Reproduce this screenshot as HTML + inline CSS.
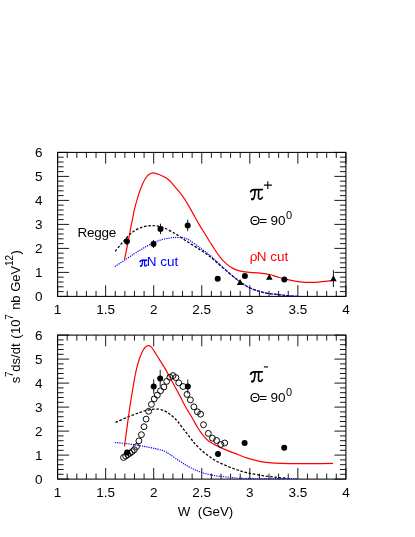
<!DOCTYPE html>
<html><head><meta charset="utf-8"><title>s7 dsigma/dt</title>
<style>
html,body{margin:0;padding:0;background:#fff;}
body{width:415px;height:537px;overflow:hidden;}
svg{display:block;will-change:transform;}
text{font-family:"Liberation Sans",sans-serif;font-size:13.5px;fill:#000;}
</style></head><body>
<svg width="415" height="537" viewBox="0 0 415 537">
<rect x="0" y="0" width="415" height="537" fill="#fff"/>
<!-- top panel -->
<rect x="57.60" y="152.40" width="288.30" height="144.00" fill="none" stroke="#000" stroke-width="1.05"/>
<path d="M57.60,296.40v-11.20M57.60,152.40v11.20M67.21,296.40v-5.50M67.21,152.40v5.50M76.82,296.40v-5.50M76.82,152.40v5.50M86.43,296.40v-5.50M86.43,152.40v5.50M96.04,296.40v-5.50M96.04,152.40v5.50M105.65,296.40v-11.20M105.65,152.40v11.20M115.26,296.40v-5.50M115.26,152.40v5.50M124.87,296.40v-5.50M124.87,152.40v5.50M134.48,296.40v-5.50M134.48,152.40v5.50M144.09,296.40v-5.50M144.09,152.40v5.50M153.70,296.40v-11.20M153.70,152.40v11.20M163.31,296.40v-5.50M163.31,152.40v5.50M172.92,296.40v-5.50M172.92,152.40v5.50M182.53,296.40v-5.50M182.53,152.40v5.50M192.14,296.40v-5.50M192.14,152.40v5.50M201.75,296.40v-11.20M201.75,152.40v11.20M211.36,296.40v-5.50M211.36,152.40v5.50M220.97,296.40v-5.50M220.97,152.40v5.50M230.58,296.40v-5.50M230.58,152.40v5.50M240.19,296.40v-5.50M240.19,152.40v5.50M249.80,296.40v-11.20M249.80,152.40v11.20M259.41,296.40v-5.50M259.41,152.40v5.50M269.02,296.40v-5.50M269.02,152.40v5.50M278.63,296.40v-5.50M278.63,152.40v5.50M288.24,296.40v-5.50M288.24,152.40v5.50M297.85,296.40v-11.20M297.85,152.40v11.20M307.46,296.40v-5.50M307.46,152.40v5.50M317.07,296.40v-5.50M317.07,152.40v5.50M326.68,296.40v-5.50M326.68,152.40v5.50M336.29,296.40v-5.50M336.29,152.40v5.50M345.90,296.40v-11.20M345.90,152.40v11.20M57.60,296.40h11.50M345.90,296.40h-11.50M57.60,291.60h6.00M345.90,291.60h-6.00M57.60,286.80h6.00M345.90,286.80h-6.00M57.60,282.00h6.00M345.90,282.00h-6.00M57.60,277.20h6.00M345.90,277.20h-6.00M57.60,272.40h11.50M345.90,272.40h-11.50M57.60,267.60h6.00M345.90,267.60h-6.00M57.60,262.80h6.00M345.90,262.80h-6.00M57.60,258.00h6.00M345.90,258.00h-6.00M57.60,253.20h6.00M345.90,253.20h-6.00M57.60,248.40h11.50M345.90,248.40h-11.50M57.60,243.60h6.00M345.90,243.60h-6.00M57.60,238.80h6.00M345.90,238.80h-6.00M57.60,234.00h6.00M345.90,234.00h-6.00M57.60,229.20h6.00M345.90,229.20h-6.00M57.60,224.40h11.50M345.90,224.40h-11.50M57.60,219.60h6.00M345.90,219.60h-6.00M57.60,214.80h6.00M345.90,214.80h-6.00M57.60,210.00h6.00M345.90,210.00h-6.00M57.60,205.20h6.00M345.90,205.20h-6.00M57.60,200.40h11.50M345.90,200.40h-11.50M57.60,195.60h6.00M345.90,195.60h-6.00M57.60,190.80h6.00M345.90,190.80h-6.00M57.60,186.00h6.00M345.90,186.00h-6.00M57.60,181.20h6.00M345.90,181.20h-6.00M57.60,176.40h11.50M345.90,176.40h-11.50M57.60,171.60h6.00M345.90,171.60h-6.00M57.60,166.80h6.00M345.90,166.80h-6.00M57.60,162.00h6.00M345.90,162.00h-6.00M57.60,157.20h6.00M345.90,157.20h-6.00M57.60,152.40h11.50M345.90,152.40h-11.50" stroke="#000" stroke-width="0.9" fill="none"/>
<text x="57.60" y="313.90" text-anchor="middle">1</text>
<text x="105.65" y="313.90" text-anchor="middle">1.5</text>
<text x="153.70" y="313.90" text-anchor="middle">2</text>
<text x="201.75" y="313.90" text-anchor="middle">2.5</text>
<text x="249.80" y="313.90" text-anchor="middle">3</text>
<text x="297.85" y="313.90" text-anchor="middle">3.5</text>
<text x="345.90" y="313.90" text-anchor="middle">4</text>
<text x="42.4" y="300.95" text-anchor="end">0</text>
<text x="42.4" y="276.95" text-anchor="end">1</text>
<text x="42.4" y="252.95" text-anchor="end">2</text>
<text x="42.4" y="228.95" text-anchor="end">3</text>
<text x="42.4" y="204.95" text-anchor="end">4</text>
<text x="42.4" y="180.95" text-anchor="end">5</text>
<text x="42.4" y="156.95" text-anchor="end">6</text>
<path d="M115.20,251.30 C116.00,250.30 118.37,247.25 120.00,245.30 C121.63,243.35 123.33,241.43 125.00,239.60 C126.67,237.77 128.42,235.77 130.00,234.30 C131.58,232.83 132.90,231.83 134.50,230.80 C136.10,229.77 137.68,228.87 139.60,228.10 C141.52,227.33 143.90,226.62 146.00,226.20 C148.10,225.78 150.20,225.60 152.20,225.60 C154.20,225.60 155.92,225.78 158.00,226.20 C160.08,226.62 161.65,226.75 164.70,228.10 C167.75,229.45 172.45,231.98 176.30,234.30 C180.15,236.62 183.92,239.48 187.80,242.00 C191.68,244.52 195.97,247.02 199.60,249.40 C203.23,251.78 206.32,253.75 209.60,256.30 C212.88,258.85 216.08,261.93 219.30,264.70 C222.52,267.47 225.70,270.25 228.90,272.90 C232.10,275.55 235.28,278.23 238.50,280.60 C241.72,282.97 244.98,285.38 248.20,287.10 C251.42,288.82 254.58,289.87 257.80,290.90 C261.02,291.93 263.80,292.65 267.50,293.30 C271.20,293.95 276.25,294.37 280.00,294.80 C283.75,295.23 287.17,295.65 290.00,295.90 C292.83,296.15 295.83,296.23 297.00,296.30" fill="none" stroke="#000" stroke-width="1.25" stroke-dasharray="2.6 1.7"/>
<path d="M115.30,266.30 C116.87,265.27 121.57,262.18 124.70,260.10 C127.83,258.02 131.22,255.65 134.10,253.80 C136.98,251.95 139.35,250.57 142.00,249.00 C144.65,247.43 146.97,245.87 150.00,244.40 C153.03,242.93 156.87,241.28 160.20,240.20 C163.53,239.12 167.20,238.35 170.00,237.90 C172.80,237.45 174.58,237.48 177.00,237.50 C179.42,237.52 182.33,237.48 184.50,238.00 C186.67,238.52 187.48,239.02 190.00,240.60 C192.52,242.18 196.33,245.10 199.60,247.50 C202.87,249.90 206.32,252.27 209.60,255.00 C212.88,257.73 216.08,260.92 219.30,263.90 C222.52,266.88 225.70,270.12 228.90,272.90 C232.10,275.68 235.28,278.23 238.50,280.60 C241.72,282.97 244.98,285.38 248.20,287.10 C251.42,288.82 254.58,289.87 257.80,290.90 C261.02,291.93 263.80,292.65 267.50,293.30 C271.20,293.95 276.25,294.37 280.00,294.80 C283.75,295.23 287.05,295.65 290.00,295.90 C292.95,296.15 296.42,296.23 297.70,296.30" fill="none" stroke="#0000ff" stroke-width="1.35" stroke-linecap="round" stroke-dasharray="0.01 2.25"/>
<path d="M124.50,259.60 C124.90,257.63 126.10,251.73 126.90,247.80 C127.70,243.87 128.67,239.30 129.30,236.00 C129.93,232.70 130.20,230.67 130.70,228.00 C131.20,225.33 131.67,223.13 132.30,220.00 C132.93,216.87 133.53,213.18 134.50,209.20 C135.47,205.22 136.90,199.97 138.10,196.10 C139.30,192.23 140.50,188.88 141.70,186.00 C142.90,183.12 144.10,180.72 145.30,178.80 C146.50,176.88 147.57,175.48 148.90,174.50 C150.23,173.52 151.62,172.90 153.30,172.90 C154.98,172.90 156.83,173.63 159.00,174.50 C161.17,175.37 164.37,176.90 166.30,178.10 C168.23,179.30 169.17,180.27 170.60,181.70 C172.03,183.13 173.80,185.42 174.90,186.70 C176.00,187.98 175.60,187.38 177.20,189.40 C178.80,191.42 182.08,195.18 184.50,198.80 C186.92,202.42 189.30,206.88 191.70,211.10 C194.10,215.32 196.73,220.37 198.90,224.10 C201.07,227.83 203.07,230.85 204.70,233.50 C206.33,236.15 207.53,238.15 208.70,240.00 C209.87,241.85 210.00,242.00 211.70,244.60 C213.40,247.20 216.50,252.43 218.90,255.60 C221.30,258.77 223.68,261.43 226.10,263.60 C228.52,265.77 230.98,267.33 233.40,268.60 C235.82,269.87 237.80,270.58 240.60,271.20 C243.40,271.82 246.98,271.97 250.20,272.30 C253.42,272.63 256.68,272.83 259.90,273.20 C263.12,273.57 266.28,273.78 269.50,274.50 C272.72,275.22 275.78,276.55 279.20,277.50 C282.62,278.45 286.53,279.48 290.00,280.20 C293.47,280.92 296.67,281.43 300.00,281.80 C303.33,282.17 306.57,282.38 310.00,282.40 C313.43,282.42 316.65,282.23 320.60,281.90 C324.55,281.57 331.52,280.65 333.70,280.40" fill="none" stroke="#ff0000" stroke-width="1.2"/>
<line x1="126.90" y1="237.30" x2="126.90" y2="245.30" stroke="#000" stroke-width="0.9"/>
<circle cx="126.90" cy="241.30" r="3.00" fill="#000"/>
<line x1="153.50" y1="240.00" x2="153.50" y2="248.00" stroke="#000" stroke-width="0.9"/>
<circle cx="153.50" cy="244.00" r="3.00" fill="#000"/>
<line x1="160.50" y1="223.70" x2="160.50" y2="234.10" stroke="#000" stroke-width="0.9"/>
<circle cx="160.50" cy="228.90" r="3.00" fill="#000"/>
<line x1="187.70" y1="219.60" x2="187.70" y2="231.20" stroke="#000" stroke-width="0.9"/>
<circle cx="187.70" cy="225.40" r="3.00" fill="#000"/>
<circle cx="217.70" cy="278.80" r="3.00" fill="#000"/>
<circle cx="244.90" cy="275.90" r="3.00" fill="#000"/>
<circle cx="284.30" cy="279.50" r="3.00" fill="#000"/>
<path d="M240.10,278.95 L243.35,284.96 L236.85,284.96 Z" fill="#000"/>
<path d="M269.30,273.75 L272.55,279.76 L266.05,279.76 Z" fill="#000"/>
<line x1="333.40" y1="270.10" x2="333.40" y2="287.10" stroke="#000" stroke-width="0.9"/>
<path d="M333.40,275.35 L336.65,281.36 L330.15,281.36 Z" fill="#000"/>
<text x="77.5" y="236.8" style="letter-spacing:-0.28px">Regge</text>
<g transform="translate(-7.94,148.5) scale(0.59) translate(245,178) scale(0.07231)" fill="none" stroke="#0000ff" stroke-linecap="round" stroke-linejoin="round">
<path d="M78,190 C88,166 104,160 126,160 L238,160" stroke-width="34"/>
<path d="M140,162 C139,205 136,248 122,282 C114,300 98,304 94,292" stroke-width="30"/>
<circle cx="100" cy="288" r="11" fill="#0000ff" stroke-width="12"/>
<path d="M190,162 C188,205 184,250 188,276 C193,300 224,298 240,268" stroke-width="30"/>
</g><text x="146.7" y="266.3" style="fill:#0000ff">N cut</text>
<text x="249.8" y="261" style="fill:#ff0000">&#961;</text><text x="256.8" y="261" style="fill:#ff0000">N cut</text>
<g transform="translate(245,178) scale(0.07231)" fill="none" stroke="#000" stroke-linecap="round" stroke-linejoin="round">
<path d="M78,190 C88,166 104,160 126,160 L238,160" stroke-width="25"/>
<path d="M140,162 C139,205 136,248 122,282 C114,300 98,304 94,292" stroke-width="22"/>
<circle cx="100" cy="290" r="10" fill="#000" stroke-width="8"/>
<path d="M190,162 C188,205 184,250 188,276 C193,300 224,298 240,268" stroke-width="22"/>
</g>
<path d="M263.9,185.1H271.9M267.8,181.2V188.9" stroke="#000" stroke-width="1.1" fill="none"/>
<text x="249.8" y="224.9">&#920;</text><text x="259.2" y="224.9">=</text><text x="270.4" y="224.9">90</text>
<text x="286.1" y="219.2" style="font-size:11px">0</text>
<!-- bottom panel -->
<rect x="57.60" y="335.10" width="288.30" height="144.00" fill="none" stroke="#000" stroke-width="1.05"/>
<path d="M57.60,479.10v-11.20M57.60,335.10v11.20M67.21,479.10v-5.50M67.21,335.10v5.50M76.82,479.10v-5.50M76.82,335.10v5.50M86.43,479.10v-5.50M86.43,335.10v5.50M96.04,479.10v-5.50M96.04,335.10v5.50M105.65,479.10v-11.20M105.65,335.10v11.20M115.26,479.10v-5.50M115.26,335.10v5.50M124.87,479.10v-5.50M124.87,335.10v5.50M134.48,479.10v-5.50M134.48,335.10v5.50M144.09,479.10v-5.50M144.09,335.10v5.50M153.70,479.10v-11.20M153.70,335.10v11.20M163.31,479.10v-5.50M163.31,335.10v5.50M172.92,479.10v-5.50M172.92,335.10v5.50M182.53,479.10v-5.50M182.53,335.10v5.50M192.14,479.10v-5.50M192.14,335.10v5.50M201.75,479.10v-11.20M201.75,335.10v11.20M211.36,479.10v-5.50M211.36,335.10v5.50M220.97,479.10v-5.50M220.97,335.10v5.50M230.58,479.10v-5.50M230.58,335.10v5.50M240.19,479.10v-5.50M240.19,335.10v5.50M249.80,479.10v-11.20M249.80,335.10v11.20M259.41,479.10v-5.50M259.41,335.10v5.50M269.02,479.10v-5.50M269.02,335.10v5.50M278.63,479.10v-5.50M278.63,335.10v5.50M288.24,479.10v-5.50M288.24,335.10v5.50M297.85,479.10v-11.20M297.85,335.10v11.20M307.46,479.10v-5.50M307.46,335.10v5.50M317.07,479.10v-5.50M317.07,335.10v5.50M326.68,479.10v-5.50M326.68,335.10v5.50M336.29,479.10v-5.50M336.29,335.10v5.50M345.90,479.10v-11.20M345.90,335.10v11.20M57.60,479.10h11.50M345.90,479.10h-11.50M57.60,474.30h6.00M345.90,474.30h-6.00M57.60,469.50h6.00M345.90,469.50h-6.00M57.60,464.70h6.00M345.90,464.70h-6.00M57.60,459.90h6.00M345.90,459.90h-6.00M57.60,455.10h11.50M345.90,455.10h-11.50M57.60,450.30h6.00M345.90,450.30h-6.00M57.60,445.50h6.00M345.90,445.50h-6.00M57.60,440.70h6.00M345.90,440.70h-6.00M57.60,435.90h6.00M345.90,435.90h-6.00M57.60,431.10h11.50M345.90,431.10h-11.50M57.60,426.30h6.00M345.90,426.30h-6.00M57.60,421.50h6.00M345.90,421.50h-6.00M57.60,416.70h6.00M345.90,416.70h-6.00M57.60,411.90h6.00M345.90,411.90h-6.00M57.60,407.10h11.50M345.90,407.10h-11.50M57.60,402.30h6.00M345.90,402.30h-6.00M57.60,397.50h6.00M345.90,397.50h-6.00M57.60,392.70h6.00M345.90,392.70h-6.00M57.60,387.90h6.00M345.90,387.90h-6.00M57.60,383.10h11.50M345.90,383.10h-11.50M57.60,378.30h6.00M345.90,378.30h-6.00M57.60,373.50h6.00M345.90,373.50h-6.00M57.60,368.70h6.00M345.90,368.70h-6.00M57.60,363.90h6.00M345.90,363.90h-6.00M57.60,359.10h11.50M345.90,359.10h-11.50M57.60,354.30h6.00M345.90,354.30h-6.00M57.60,349.50h6.00M345.90,349.50h-6.00M57.60,344.70h6.00M345.90,344.70h-6.00M57.60,339.90h6.00M345.90,339.90h-6.00M57.60,335.10h11.50M345.90,335.10h-11.50" stroke="#000" stroke-width="0.9" fill="none"/>
<text x="57.60" y="496.60" text-anchor="middle">1</text>
<text x="105.65" y="496.60" text-anchor="middle">1.5</text>
<text x="153.70" y="496.60" text-anchor="middle">2</text>
<text x="201.75" y="496.60" text-anchor="middle">2.5</text>
<text x="249.80" y="496.60" text-anchor="middle">3</text>
<text x="297.85" y="496.60" text-anchor="middle">3.5</text>
<text x="345.90" y="496.60" text-anchor="middle">4</text>
<text x="42.4" y="483.65" text-anchor="end">0</text>
<text x="42.4" y="459.65" text-anchor="end">1</text>
<text x="42.4" y="435.65" text-anchor="end">2</text>
<text x="42.4" y="411.65" text-anchor="end">3</text>
<text x="42.4" y="387.65" text-anchor="end">4</text>
<text x="42.4" y="363.65" text-anchor="end">5</text>
<text x="42.4" y="339.65" text-anchor="end">6</text>
<path d="M115.50,422.40 C117.72,421.43 124.65,418.28 128.80,416.60 C132.95,414.92 137.03,413.43 140.40,412.30 C143.77,411.17 146.12,410.33 149.00,409.80 C151.88,409.27 155.17,408.93 157.70,409.10 C160.23,409.27 162.33,410.07 164.20,410.80 C166.07,411.53 167.43,412.50 168.90,413.50 C170.37,414.50 171.55,415.48 173.00,416.80 C174.45,418.12 175.63,419.07 177.60,421.40 C179.57,423.73 182.47,427.78 184.80,430.80 C187.13,433.82 189.83,437.27 191.60,439.50 C193.37,441.73 193.48,442.17 195.40,444.20 C197.32,446.23 200.53,449.48 203.10,451.70 C205.67,453.92 208.22,455.73 210.80,457.50 C213.38,459.27 215.70,460.80 218.60,462.30 C221.50,463.80 225.00,465.22 228.20,466.50 C231.40,467.78 234.58,468.93 237.80,470.00 C241.02,471.07 243.80,472.03 247.50,472.90 C251.20,473.77 255.42,474.48 260.00,475.20 C264.58,475.92 270.45,476.68 275.00,477.20 C279.55,477.72 285.25,478.12 287.30,478.30" fill="none" stroke="#000" stroke-width="1.25" stroke-dasharray="2.6 1.7"/>
<path d="M115.50,442.60 C117.47,442.78 123.40,443.22 127.30,443.70 C131.20,444.18 135.28,444.90 138.90,445.50 C142.52,446.10 145.87,446.68 149.00,447.30 C152.13,447.92 155.05,448.53 157.70,449.20 C160.35,449.87 162.85,450.40 164.90,451.30 C166.95,452.20 167.48,452.93 170.00,454.60 C172.52,456.27 177.05,459.38 180.00,461.30 C182.95,463.22 185.13,464.65 187.70,466.10 C190.27,467.55 192.83,468.87 195.40,470.00 C197.97,471.13 200.53,472.10 203.10,472.90 C205.67,473.70 208.22,474.25 210.80,474.80 C213.38,475.35 215.70,475.82 218.60,476.20 C221.50,476.58 225.00,476.78 228.20,477.10 C231.40,477.42 232.50,477.85 237.80,478.10 C243.10,478.35 249.97,478.52 260.00,478.60 C270.03,478.68 291.67,478.60 298.00,478.60" fill="none" stroke="#0000ff" stroke-width="1.35" stroke-linecap="round" stroke-dasharray="0.01 2.25"/>
<path d="M124.50,446.30 C125.32,440.25 128.18,418.55 129.40,410.00 C130.62,401.45 131.00,399.90 131.80,395.00 C132.60,390.10 133.40,385.00 134.20,380.60 C135.00,376.20 135.67,372.42 136.60,368.60 C137.53,364.78 138.67,360.83 139.80,357.70 C140.93,354.57 142.40,351.60 143.40,349.80 C144.40,348.00 145.00,347.58 145.80,346.90 C146.60,346.22 147.32,345.70 148.20,345.70 C149.08,345.70 150.10,345.98 151.10,346.90 C152.10,347.82 152.88,349.20 154.20,351.20 C155.52,353.20 157.18,356.00 159.00,358.90 C160.82,361.80 162.88,364.78 165.10,368.60 C167.32,372.42 169.90,377.38 172.30,381.80 C174.70,386.22 177.25,390.87 179.50,395.10 C181.75,399.33 184.12,404.13 185.80,407.20 C187.48,410.27 188.32,411.33 189.60,413.50 C190.88,415.67 192.22,417.95 193.50,420.20 C194.78,422.45 196.02,424.90 197.30,427.00 C198.58,429.10 200.00,431.15 201.20,432.80 C202.40,434.45 203.22,435.48 204.50,436.90 C205.78,438.32 207.20,440.02 208.90,441.30 C210.60,442.58 212.77,443.55 214.70,444.60 C216.63,445.65 218.25,446.55 220.50,447.60 C222.75,448.65 225.32,449.75 228.20,450.90 C231.08,452.05 234.58,453.30 237.80,454.50 C241.02,455.70 243.87,456.97 247.50,458.10 C251.13,459.23 255.97,460.53 259.60,461.30 C263.23,462.07 265.68,462.35 269.30,462.70 C272.92,463.05 276.48,463.25 281.30,463.40 C286.12,463.55 292.97,463.55 298.20,463.60 C303.43,463.65 306.90,463.73 312.70,463.70 C318.50,463.67 329.62,463.45 333.00,463.40" fill="none" stroke="#ff0000" stroke-width="1.2"/>
<circle cx="123.50" cy="457.50" r="2.95" fill="none" stroke="#000" stroke-width="0.95"/>
<circle cx="125.70" cy="456.10" r="2.95" fill="none" stroke="#000" stroke-width="0.95"/>
<circle cx="127.80" cy="454.60" r="2.95" fill="none" stroke="#000" stroke-width="0.95"/>
<circle cx="130.00" cy="453.20" r="2.95" fill="none" stroke="#000" stroke-width="0.95"/>
<circle cx="132.20" cy="451.60" r="2.95" fill="none" stroke="#000" stroke-width="0.95"/>
<circle cx="134.30" cy="449.70" r="2.95" fill="none" stroke="#000" stroke-width="0.95"/>
<circle cx="136.50" cy="446.60" r="2.95" fill="none" stroke="#000" stroke-width="0.95"/>
<circle cx="138.90" cy="440.90" r="2.95" fill="none" stroke="#000" stroke-width="0.95"/>
<circle cx="141.40" cy="434.70" r="2.95" fill="none" stroke="#000" stroke-width="0.95"/>
<circle cx="144.00" cy="426.70" r="2.95" fill="none" stroke="#000" stroke-width="0.95"/>
<circle cx="146.10" cy="419.10" r="2.95" fill="none" stroke="#000" stroke-width="0.95"/>
<circle cx="148.60" cy="411.30" r="2.95" fill="none" stroke="#000" stroke-width="0.95"/>
<circle cx="151.40" cy="404.40" r="2.95" fill="none" stroke="#000" stroke-width="0.95"/>
<circle cx="154.20" cy="398.90" r="2.95" fill="none" stroke="#000" stroke-width="0.95"/>
<circle cx="157.30" cy="395.10" r="2.95" fill="none" stroke="#000" stroke-width="0.95"/>
<circle cx="160.50" cy="390.80" r="2.95" fill="none" stroke="#000" stroke-width="0.95"/>
<circle cx="163.90" cy="387.00" r="2.95" fill="none" stroke="#000" stroke-width="0.95"/>
<circle cx="166.70" cy="381.40" r="2.95" fill="none" stroke="#000" stroke-width="0.95"/>
<circle cx="169.90" cy="377.30" r="2.95" fill="none" stroke="#000" stroke-width="0.95"/>
<circle cx="173.00" cy="375.60" r="2.95" fill="none" stroke="#000" stroke-width="0.95"/>
<circle cx="175.90" cy="377.60" r="2.95" fill="none" stroke="#000" stroke-width="0.95"/>
<circle cx="178.70" cy="382.80" r="2.95" fill="none" stroke="#000" stroke-width="0.95"/>
<circle cx="183.10" cy="386.50" r="2.95" fill="none" stroke="#000" stroke-width="0.95"/>
<circle cx="187.00" cy="394.40" r="2.95" fill="none" stroke="#000" stroke-width="0.95"/>
<circle cx="190.40" cy="399.90" r="2.95" fill="none" stroke="#000" stroke-width="0.95"/>
<circle cx="193.90" cy="406.80" r="2.95" fill="none" stroke="#000" stroke-width="0.95"/>
<circle cx="197.40" cy="411.80" r="2.95" fill="none" stroke="#000" stroke-width="0.95"/>
<circle cx="200.60" cy="414.20" r="2.95" fill="none" stroke="#000" stroke-width="0.95"/>
<circle cx="203.50" cy="424.70" r="2.95" fill="none" stroke="#000" stroke-width="0.95"/>
<circle cx="208.30" cy="433.40" r="2.95" fill="none" stroke="#000" stroke-width="0.95"/>
<circle cx="212.40" cy="438.20" r="2.95" fill="none" stroke="#000" stroke-width="0.95"/>
<circle cx="216.60" cy="440.50" r="2.95" fill="none" stroke="#000" stroke-width="0.95"/>
<circle cx="220.90" cy="444.50" r="2.95" fill="none" stroke="#000" stroke-width="0.95"/>
<circle cx="224.70" cy="443.00" r="2.95" fill="none" stroke="#000" stroke-width="0.95"/>
<circle cx="127.10" cy="452.40" r="3.00" fill="#000"/>
<line x1="153.70" y1="379.30" x2="153.70" y2="393.70" stroke="#000" stroke-width="0.9"/>
<circle cx="153.70" cy="386.50" r="3.00" fill="#000"/>
<line x1="160.20" y1="369.90" x2="160.20" y2="386.90" stroke="#000" stroke-width="0.9"/>
<circle cx="160.20" cy="378.40" r="3.00" fill="#000"/>
<line x1="187.80" y1="379.50" x2="187.80" y2="393.50" stroke="#000" stroke-width="0.9"/>
<circle cx="187.80" cy="386.50" r="3.00" fill="#000"/>
<circle cx="218.00" cy="454.00" r="3.00" fill="#000"/>
<circle cx="244.60" cy="443.00" r="3.00" fill="#000"/>
<circle cx="284.20" cy="447.70" r="3.00" fill="#000"/>
<g transform="translate(245,360.3) scale(0.07231)" fill="none" stroke="#000" stroke-linecap="round" stroke-linejoin="round">
<path d="M78,190 C88,166 104,160 126,160 L238,160" stroke-width="25"/>
<path d="M140,162 C139,205 136,248 122,282 C114,300 98,304 94,292" stroke-width="22"/>
<circle cx="100" cy="290" r="10" fill="#000" stroke-width="8"/>
<path d="M190,162 C188,205 184,250 188,276 C193,300 224,298 240,268" stroke-width="22"/>
</g>
<path d="M263.9,366.9H268" stroke="#222" stroke-width="1.3" fill="none"/>
<text x="249.8" y="402.0">&#920;</text><text x="259.2" y="402.0">=</text><text x="270.4" y="402.0">90</text>
<text x="286.1" y="396.3" style="font-size:11px">0</text>
<!-- axis titles -->
<text x="177.8" y="515.8" xml:space="preserve" style="font-size:13.3px">W  (GeV)</text>
<g transform="translate(19.6,383.3) rotate(-90)">
<text x="0" y="0" style="font-size:13px">s<tspan dx="-0.2" dy="-6.5" style="font-size:10px">7</tspan><tspan dx="-0.2" dy="6.5">ds/dt</tspan><tspan dx="1.0"> (</tspan><tspan dx="0.5">10</tspan><tspan dx="-0.3" dy="-6.5" style="font-size:10px">7</tspan><tspan dx="0.8" dy="6.5"> nb GeV</tspan><tspan dx="-0.3" dy="-6.5" style="font-size:10px">12</tspan><tspan dx="0.5" dy="6.5">)</tspan></text>
</g>
</svg>
</body></html>
